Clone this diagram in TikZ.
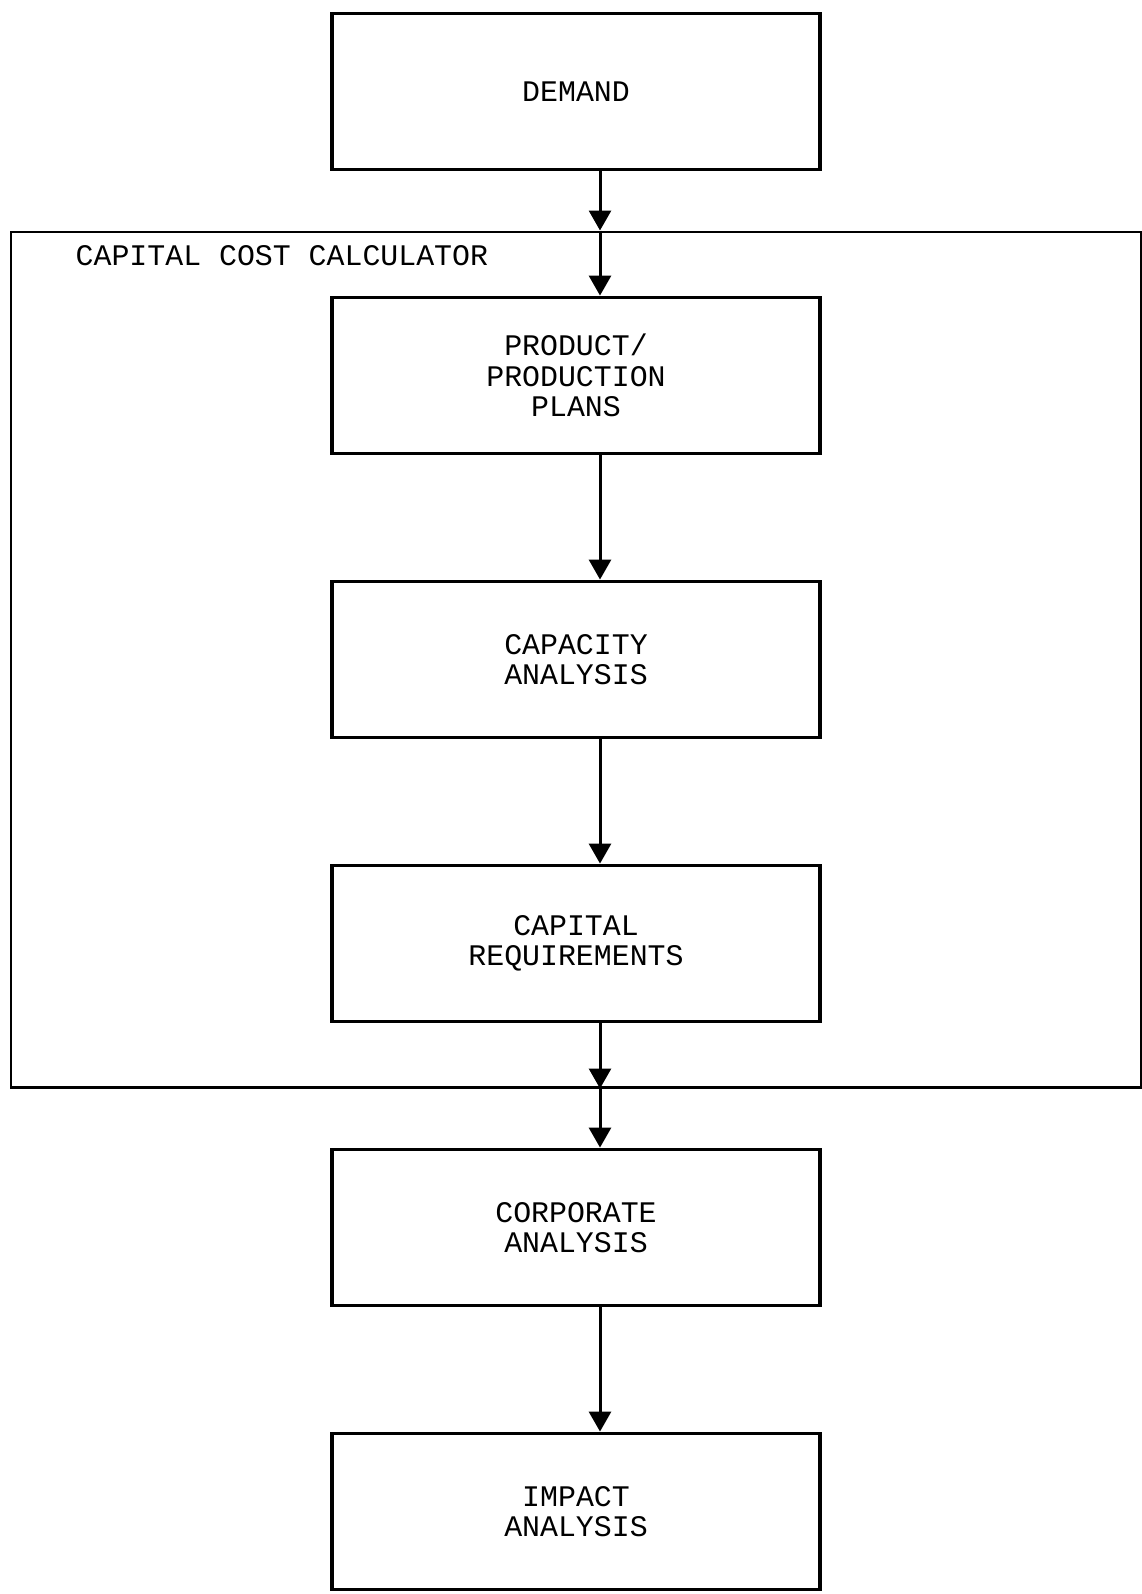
\documentclass[tikz,border=0pt]{standalone}
\usepackage{fontspec}
\setmonofont{Liberation Mono}
\usetikzlibrary{positioning,arrows.meta}

\begin{document}
\begin{tikzpicture}[
     block/.style = {draw, rectangle, line width=2.2pt, minimum width=9.76cm, minimum height=3.12cm,
      align=center, font=\ttfamily\fontsize{17}{17.4}\selectfont, node distance=5.68cm},
     frame/.style = {draw, rectangle, line width=1.7pt, minimum width=22.6cm, minimum height=17.1cm},
     title/.style = {anchor=west, font=\ttfamily\fontsize{17}{17.4}\selectfont},
     arrow/.style = {draw, line width=1.7pt, -{Triangle[width=0.44cm,length=0.4cm]}}
    ]
    \useasboundingbox (0,0) rectangle (22.82,-31.88);
    \node [block] (demand) at (11.52,-1.83) {DEMAND};
    \node [block, below of=demand] (plans) {PRODUCT/\\PRODUCTION\\PLANS};
    \node [block, below of=plans] (capacity) {CAPACITY\\ANALYSIS};
    \node [block, below of=capacity] (capreq) {CAPITAL\\REQUIREMENTS};
    \node [block, below of=capreq] (corporate) {CORPORATE\\ANALYSIS};
    \node [block, below of=corporate] (impact) {IMPACT\\ANALYSIS};

    % capital cost calculator frame
    \node [frame] (ccc) at (capacity) {};
    \node [title] (ccclabel) at ([xshift=1.2cm, yshift=-0.5cm]ccc.north west) {CAPITAL COST CALCULATOR};
    \coordinate (intop) at ([xshift=0.48cm]demand.south |- ccc.north);
    \coordinate (inbot) at ([xshift=0.48cm]capreq.south |- ccc.south);

    \draw[arrow] ([xshift=0.48cm]demand.south) -- (intop);
    \draw[arrow] (intop) -- ([xshift=0.48cm]plans.north);
    \draw[arrow] ([xshift=0.48cm]plans.south) -- ([xshift=0.48cm]capacity.north);
    \draw[arrow] ([xshift=0.48cm]capacity.south) -- ([xshift=0.48cm]capreq.north);
    \draw[arrow] ([xshift=0.48cm]capreq.south) -- (inbot);
    \draw[arrow] (inbot) -- ([xshift=0.48cm]corporate.north);
    \draw[arrow] ([xshift=0.48cm]corporate.south) -- ([xshift=0.48cm]impact.north);
\end{tikzpicture}
\end{document}
